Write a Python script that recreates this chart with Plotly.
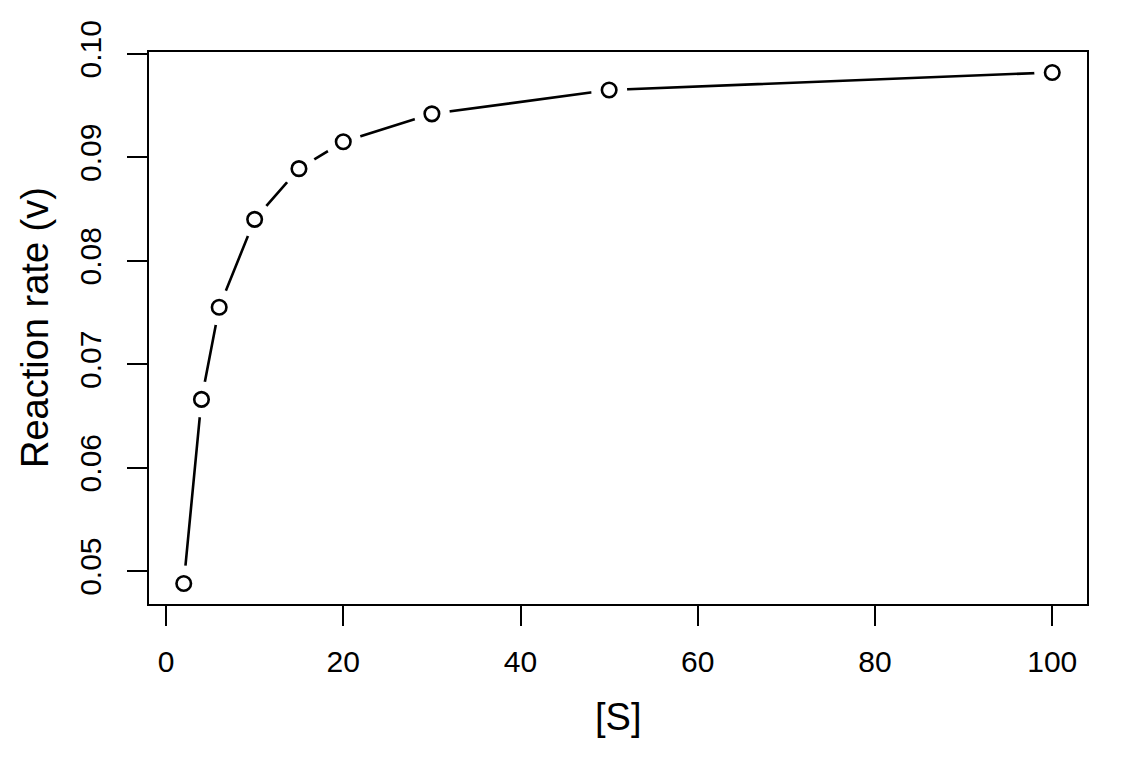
import plotly.graph_objects as go

# Data
substrate = [2, 4, 6, 10, 15, 20, 30, 50, 100]
rate = [0.0488, 0.0666, 0.0755, 0.0840, 0.0889, 0.0915, 0.0942, 0.0965, 0.0982]
x_ticks = [0, 20, 40, 60, 80, 100]
y_ticks = [0.05, 0.06, 0.07, 0.08, 0.09, 0.10]
y_tick_labels = ["0.05", "0.06", "0.07", "0.08", "0.09", "0.10"]

FONT = "Liberation Sans, Arial, Helvetica, sans-serif"
OFF = 8  # default page body margin

fig = go.Figure()
# connecting line
fig.add_trace(go.Scatter(x=substrate, y=rate, mode="lines",
                         line=dict(color="black", width=2.6), hoverinfo="skip"))
# white masks to produce R-style gaps (type="b")
fig.add_trace(go.Scatter(x=substrate, y=rate, mode="markers",
                         marker=dict(size=36, color="white", line=dict(width=0)),
                         hoverinfo="skip"))
# open circles
fig.add_trace(go.Scatter(x=substrate, y=rate, mode="markers",
                         marker=dict(size=14.5, color="white", symbol="circle",
                                     line=dict(color="black", width=2.6))))

xmin, xmax = min(substrate), max(substrate)
ymin, ymax = min(rate), max(rate)
dx = (xmax - xmin) * 0.04
dy = (ymax - ymin) * 0.04

axis_common = dict(showgrid=False, zeroline=False, showline=True, mirror=True,
                   linecolor="black", linewidth=2, ticks="outside", ticklen=20,
                   tickwidth=2, tickcolor="black",
                   tickfont=dict(family=FONT, size=30, color="black"))

fig.update_xaxes(range=[xmin - dx, xmax + dx], tickvals=x_ticks,
                 ticktext=[str(v) for v in x_ticks], ticklabelstandoff=10,
                 **axis_common)
fig.update_yaxes(range=[ymin - dy, ymax + dy], tickvals=y_ticks,
                 ticktext=y_tick_labels, tickangle=-90, ticklabelstandoff=14,
                 **axis_common)

fig.update_layout(
    width=1144 - OFF, height=762 - OFF,
    margin=dict(l=149 - OFF, r=57, t=45 - OFF, b=158),
    plot_bgcolor="white", paper_bgcolor="white",
    showlegend=False,
    font=dict(family=FONT, color="black"),
    annotations=[
        dict(text="[S]", xref="paper", yref="paper", x=0.5, y=-(718 - 604) / 559,
             xanchor="center", yanchor="middle", showarrow=False,
             font=dict(family=FONT, size=38, color="black")),
        dict(text="Reaction rate (v)", xref="paper", yref="paper",
             x=(35 - 149) / 938, y=0.5, textangle=-90,
             xanchor="center", yanchor="middle", showarrow=False,
             font=dict(family=FONT, size=38, color="black")),
    ],
)

fig.write_html("out.html")
